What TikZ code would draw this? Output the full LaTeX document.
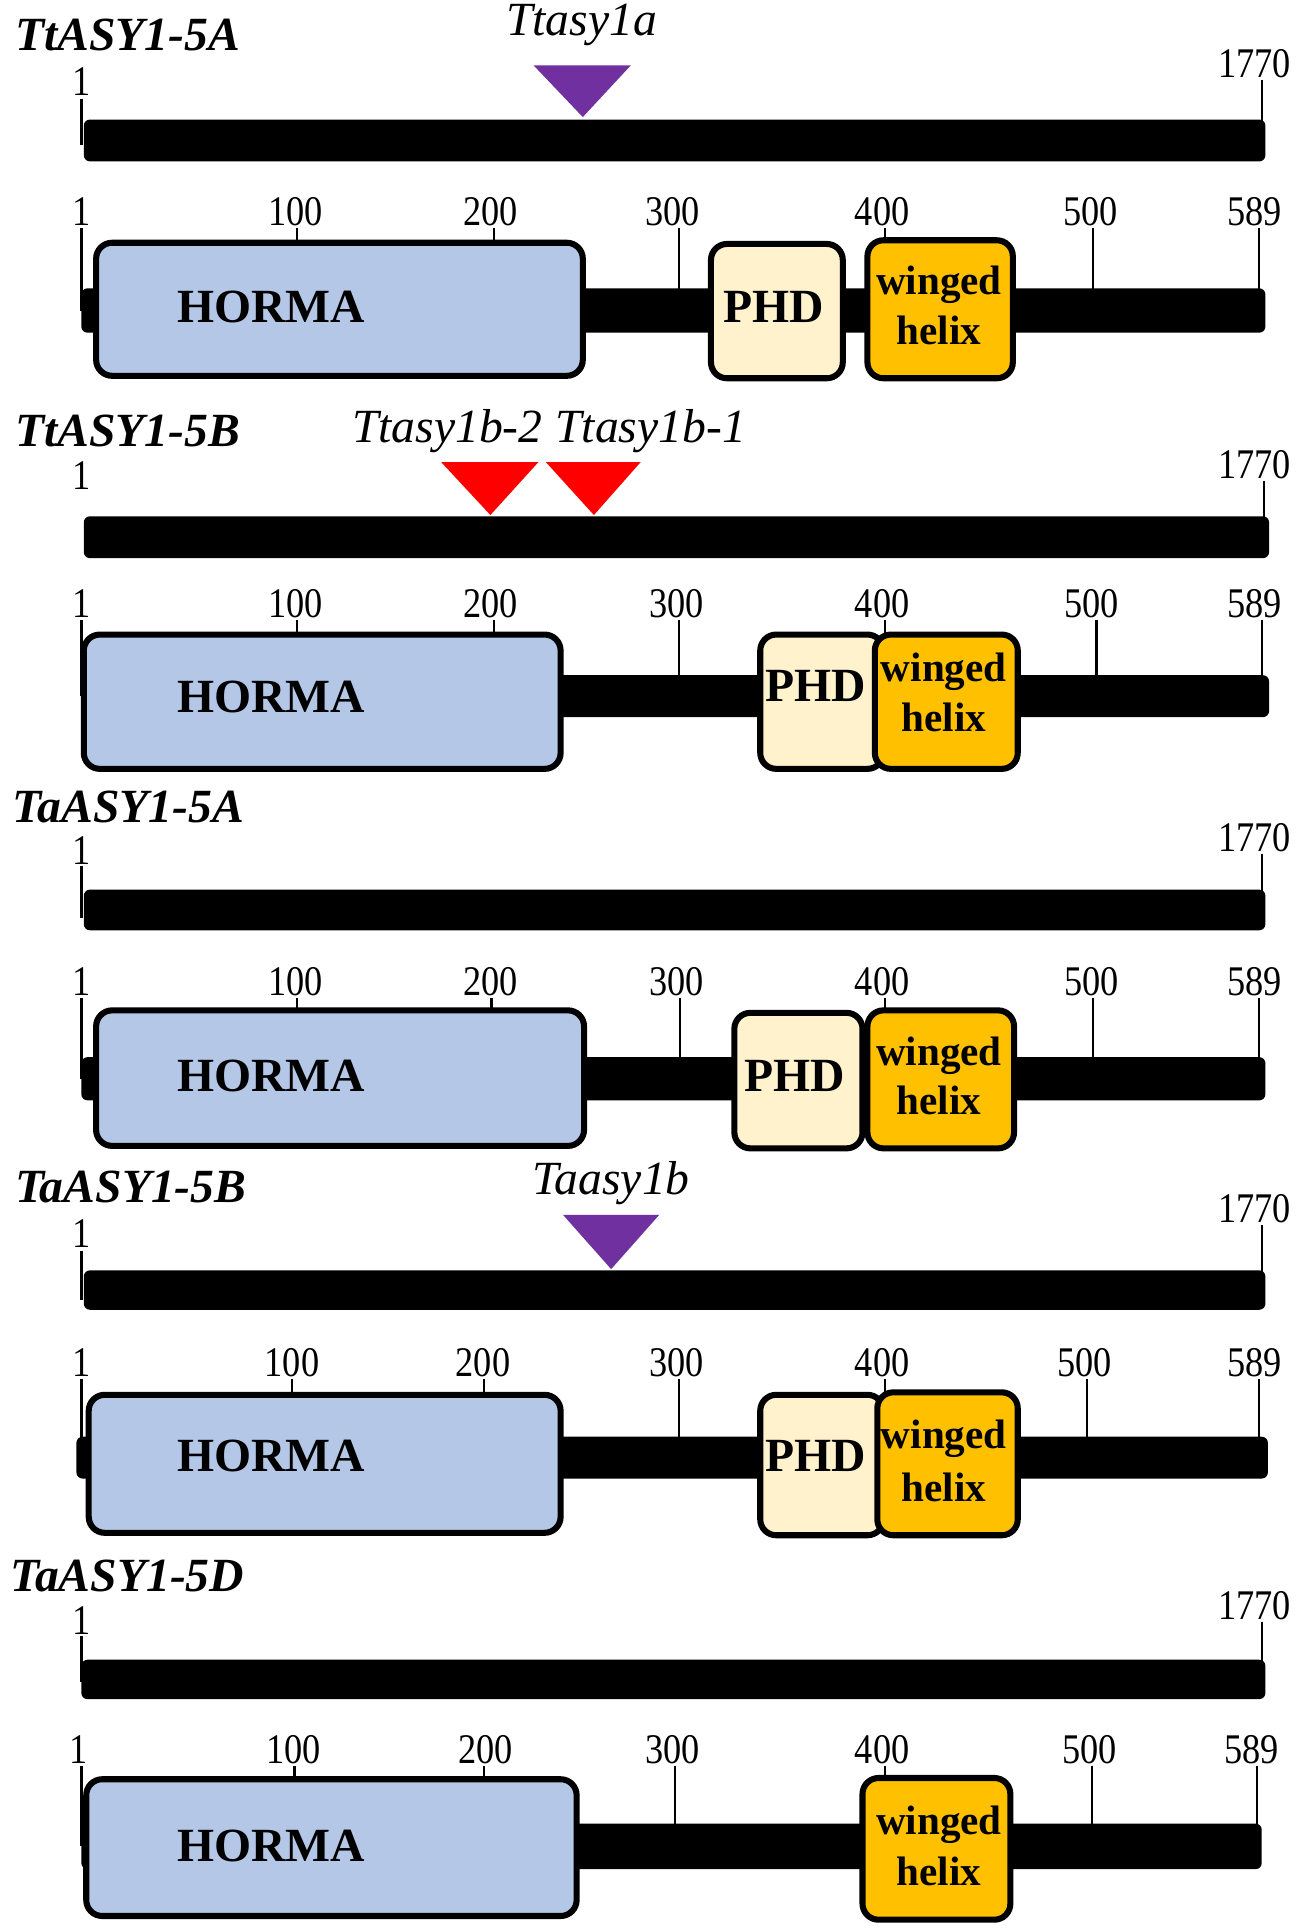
\documentclass[tikz,border=0pt]{standalone}
\usepackage{fontspec}
\setmainfont{Liberation Serif}
\newfontfamily\numfont[FakeStretch=0.86]{Liberation Serif}
\usetikzlibrary{fit}
\definecolor{hormac}{HTML}{B4C7E7}
\definecolor{phdc}{HTML}{FFF2CC}
\definecolor{whc}{HTML}{FFC000}
\definecolor{mutp}{HTML}{7030A0}
\definecolor{mutr}{HTML}{FF0000}
\begin{document}
\begin{tikzpicture}[x=0.02cm,y=-0.02cm,
  bar/.style={fill=black, rounded corners=0.1cm},
  tk/.style={line width=1.1pt},
  dom/.style={draw=black, line width=2.8pt, rounded corners=0.26cm, inner sep=0pt},
  hbox/.style={dom, fill=hormac},
  pbox/.style={dom, fill=phdc},
  wbox/.style={dom, fill=whc},
  title/.style={inner sep=0pt, anchor=west, font=\fontsize{22}{24}\selectfont\bfseries\itshape},
  mut/.style={inner sep=0pt, font=\fontsize{22}{24}\selectfont\itshape},
  num/.style={inner sep=0pt, font=\numfont\fontsize{19.5}{21}\selectfont},
  dtxt/.style={inner sep=0pt, font=\fontsize{22}{24}\selectfont\bfseries},
  wtxt/.style={inner sep=0pt, font=\fontsize{19}{21}\selectfont\bfseries}
]
\useasboundingbox[fill=white] (0,0) rectangle (1054,1568);

% ================= Panel 1: TtASY1-5A =================
\node[title] (t1) at (12,28) {TtASY1-5A};
\node[mut] (m1) at (472,20) {Ttasy1a};
\fill[mutp] (433,53) -- (512,53) -- (473,95) -- cycle;
\node[num] (g1s) at (66,66) {1};
\node[num] (g1e) at (1018,52) {1770};
\draw[tk] (66,80) -- (66,118);
\draw[tk] (1024,65) -- (1024,118);
\fill[bar] (68,97) rectangle (1027,131);
\foreach \x/\t in {66/1,240/100,398/200,546/300,716/400,885/500,1018/589}
  \node[num] (p1-\t) at (\x,172) {\t};
\foreach \x/\e in {66/252,241/200,401/200,551/252,718/200,887/252,1022/252}
  \draw[tk] (\x,185) -- (\x,\e);
\fill[bar] (66,234) rectangle (1027,270);
\node[hbox, fit={(78,197)(473,305)}] (h1) {};
\node[pbox, fit={(577,198)(684,307)}] (ph1) {};
\node[wbox, fit={(704,195)(822,307)}] (w1) {};
\node[dtxt] at (220,249) {HORMA};
\node[dtxt] at (628,249) {PHD};
\node[wtxt] at (762,231) {winged};
\node[wtxt] at (762,268) {helix};

% ================= Panel 2: TtASY1-5B =================
\node[title] (t2) at (12,350) {TtASY1-5B};
\node[mut] (m2a) at (363,350) {Ttasy1b-2};
\node[mut] (m2b) at (528,350) {Ttasy1b-1};
\fill[mutr] (358,375) -- (437,375) -- (398,418) -- cycle;
\fill[mutr] (443,375) -- (520,375) -- (482,418) -- cycle;
\node[num] (g2s) at (66,386) {1};
\node[num] (g2e) at (1018,377) {1770};
\draw[tk] (1026,390) -- (1026,436);
\fill[bar] (68,419) rectangle (1030,453);
\foreach \x/\t in {66/1,240/100,398/200,549/300,716/400,886/500,1018/589}
  \node[num] (p2-\t) at (\x,490) {\t};
\foreach \x/\e in {66/565,241/517,401/517,551/565,718/517,890/565,1024/565}
  \draw[tk] (\x,503) -- (\x,\e);
\fill[bar] (66,548) rectangle (1030,582);
\node[hbox, fit={(68,515)(455,624)}] (h2) {};
\node[pbox, fit={(617,515)(717,624)}] (ph2) {};
\node[wbox, fit={(710,515)(826,624)}] (w2) {};
\node[dtxt] at (220,566) {HORMA};
\node[dtxt] at (662,557) {PHD};
\node[wtxt] at (766,545) {winged};
\node[wtxt] at (766,582) {helix};

% ================= Panel 3: TaASY1-5A =================
\node[title] (t3) at (10,655) {TaASY1-5A};
\node[num] (g3s) at (66,690) {1};
\node[num] (g3e) at (1018,680) {1770};
\draw[tk] (66,703) -- (66,745);
\draw[tk] (1024,693) -- (1024,740);
\fill[bar] (68,722) rectangle (1027,755);
\foreach \x/\t in {66/1,240/100,398/200,549/300,716/400,886/500,1018/589}
  \node[num] (p3-\t) at (\x,797) {\t};
\foreach \x/\e in {66/876,241/822,399/822,552/876,718/822,887/876,1022/876}
  \draw[tk] (\x,810) -- (\x,\e);
\fill[bar] (66,858) rectangle (1027,893);
\node[hbox, fit={(78,820)(474,930)}] (h3) {};
\node[pbox, fit={(596,822)(700,932)}] (ph3) {};
\node[wbox, fit={(704,820)(823,932)}] (w3) {};
\node[dtxt] at (220,873) {HORMA};
\node[dtxt] at (645,873) {PHD};
\node[wtxt] at (762,857) {winged};
\node[wtxt] at (762,893) {helix};

% ================= Panel 4: TaASY1-5B =================
\node[title] (t4) at (12,963) {TaASY1-5B};
\node[mut] (m4) at (496,960) {Taasy1b};
\fill[mutp] (457,986) -- (535,986) -- (496,1030) -- cycle;
\node[num] (g4s) at (66,1001) {1};
\node[num] (g4e) at (1018,981) {1770};
\draw[tk] (66,1015) -- (66,1055);
\draw[tk] (1024,994) -- (1024,1045);
\fill[bar] (68,1031) rectangle (1027,1063);
\foreach \x/\t in {66/1,237/100,392/200,549/300,716/400,880/500,1018/589}
  \node[num] (p4-\t) at (\x,1106) {\t};
\foreach \x/\e in {66/1183,237/1134,393/1134,551/1183,718/1134,882/1183,1022/1183}
  \draw[tk] (\x,1119) -- (\x,\e);
\fill[bar] (62,1166) rectangle (1029,1200);
\node[hbox, fit={(72,1132)(455,1244)}] (h4) {};
\node[pbox, fit={(617,1132)(717,1246)}] (ph4) {};
\node[wbox, fit={(712,1130)(826,1246)}] (w4) {};
\node[dtxt] at (220,1182) {HORMA};
\node[dtxt] at (662,1182) {PHD};
\node[wtxt] at (766,1168) {winged};
\node[wtxt] at (766,1207) {helix};

% ================= Panel 5: TaASY1-5D =================
\node[title] (t5) at (8,1279) {TaASY1-5D};
\node[num] (g5s) at (66,1315) {1};
\node[num] (g5e) at (1018,1303) {1770};
\draw[tk] (66,1328) -- (66,1365);
\draw[tk] (1024,1316) -- (1024,1365);
\fill[bar] (66,1347) rectangle (1027,1379);
\foreach \x/\t in {64/1,238/100,394/200,546/300,716/400,884/500,1016/589}
  \node[num] (p5-\t) at (\x,1420) {\t};
\foreach \x/\e in {66/1498,239/1446,393/1446,548/1498,718/1446,886/1498,1020/1498}
  \draw[tk] (\x,1433) -- (\x,\e);
\fill[bar] (66,1480) rectangle (1024,1517);
\node[hbox, fit={(70,1444)(468,1555)}] (h5) {};
\node[wbox, fit={(700,1443)(820,1558)}] (w5) {};
\node[dtxt] at (220,1498) {HORMA};
\node[wtxt] at (762,1481) {winged};
\node[wtxt] at (762,1519) {helix};
\end{tikzpicture}
\end{document}
